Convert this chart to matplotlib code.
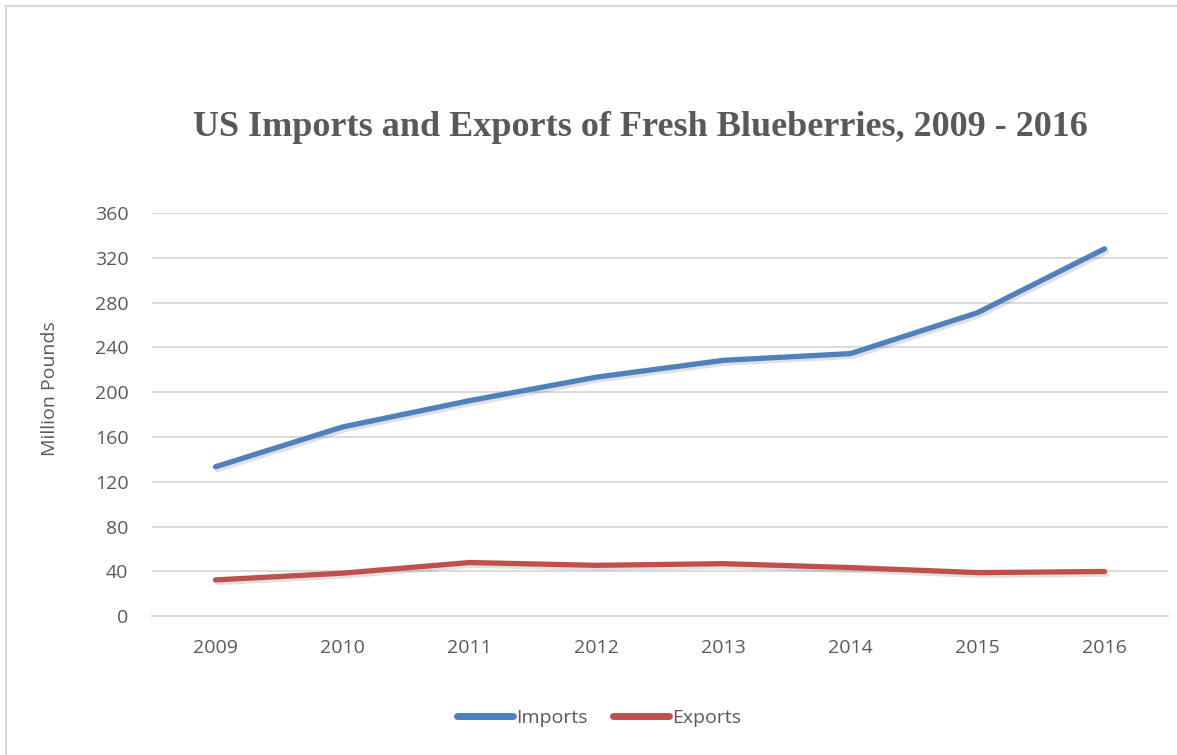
import matplotlib
matplotlib.use("Agg")
import matplotlib.pyplot as plt
import matplotlib.patheffects as pe
from matplotlib.lines import Line2D

years = ["2009", "2010", "2011", "2012", "2013", "2014", "2015", "2016"]
imports = [133.5, 169, 192.5, 213.5, 228.5, 234.5, 271, 328]
exports = [32.5, 38.5, 48, 45.5, 47, 43.5, 39, 40]
yticks = [0, 40, 80, 120, 160, 200, 240, 280, 320, 360]

title = "US Imports and Exports of Fresh Blueberries, 2009 - 2016"
ylabel = "Million Pounds"

W, H = 1177, 755
fig = plt.figure(figsize=(W / 100, H / 100), dpi=100)
fig.patch.set_facecolor("white")

txt = "#595959"
tick_font = "Open Sans"

ax = fig.add_axes([152 / W, 1 - 616.3 / H, (1168 - 152) / W, (616.3 - 213) / H])
x = list(range(len(years)))
shadow = [pe.SimpleLineShadow(offset=(1.5, -2), shadow_color="#000000", alpha=0.12), pe.Normal()]
ax.plot(x, imports, color="#4F81BD", lw=3.8, solid_capstyle="round", solid_joinstyle="round",
        path_effects=shadow, zorder=3, label="Imports")
ax.plot(x, exports, color="#C0504D", lw=3.8, solid_capstyle="round", solid_joinstyle="round",
        path_effects=shadow, zorder=3, label="Exports")

ax.set_xlim(-0.5, len(years) - 0.5)
ax.set_ylim(0, 360)
ax.set_yticks(yticks)
ax.set_yticklabels([str(v) for v in yticks])
ax.set_xticks(x)
ax.set_xticklabels(years)
ax.grid(axis="y", color="#D9D9D9", lw=1.3)
ax.set_axisbelow(True)
for s in ["top", "right", "left"]:
    ax.spines[s].set_visible(False)
ax.spines["bottom"].set_color("#D9D9D9")
ax.spines["bottom"].set_linewidth(1.3)
ax.tick_params(axis="both", length=0, labelsize=14, labelcolor=txt)
ax.tick_params(axis="y", pad=17)
ax.tick_params(axis="x", pad=16)
for lab in ax.get_xticklabels() + ax.get_yticklabels():
    lab.set_fontfamily(tick_font)

fig.text(50 / W, 1 - 389 / H, ylabel, rotation=90, ha="center", va="center",
         fontsize=14, color=txt, fontfamily=tick_font)

fig.text(640 / W, 1 - 127 / H, title, ha="center", va="center", fontsize=26,
         fontweight="bold", color=txt, fontfamily="Liberation Serif")

handles = [Line2D([0], [0], color="#4F81BD", lw=5, solid_capstyle="round"),
           Line2D([0], [0], color="#C0504D", lw=5, solid_capstyle="round")]
leg = fig.legend(handles, ["Imports", "Exports"], loc="center", bbox_to_anchor=(599 / W, 1 - 718 / H),
                 ncol=2, frameon=False, handlelength=2.9, handletextpad=0.15, columnspacing=1.3,
                 prop={"family": tick_font, "size": 14})
for t in leg.get_texts():
    t.set_color(txt)

# outer chart border (top and left visible)
fig.add_artist(Line2D([6 / W, 6 / W], [0, 1 - 6 / H], color="#D9D9D9", lw=1.5, transform=fig.transFigure))
fig.add_artist(Line2D([6 / W, 1], [1 - 6 / H, 1 - 6 / H], color="#D9D9D9", lw=1.5, transform=fig.transFigure))

fig.savefig("out.png", dpi=100)
